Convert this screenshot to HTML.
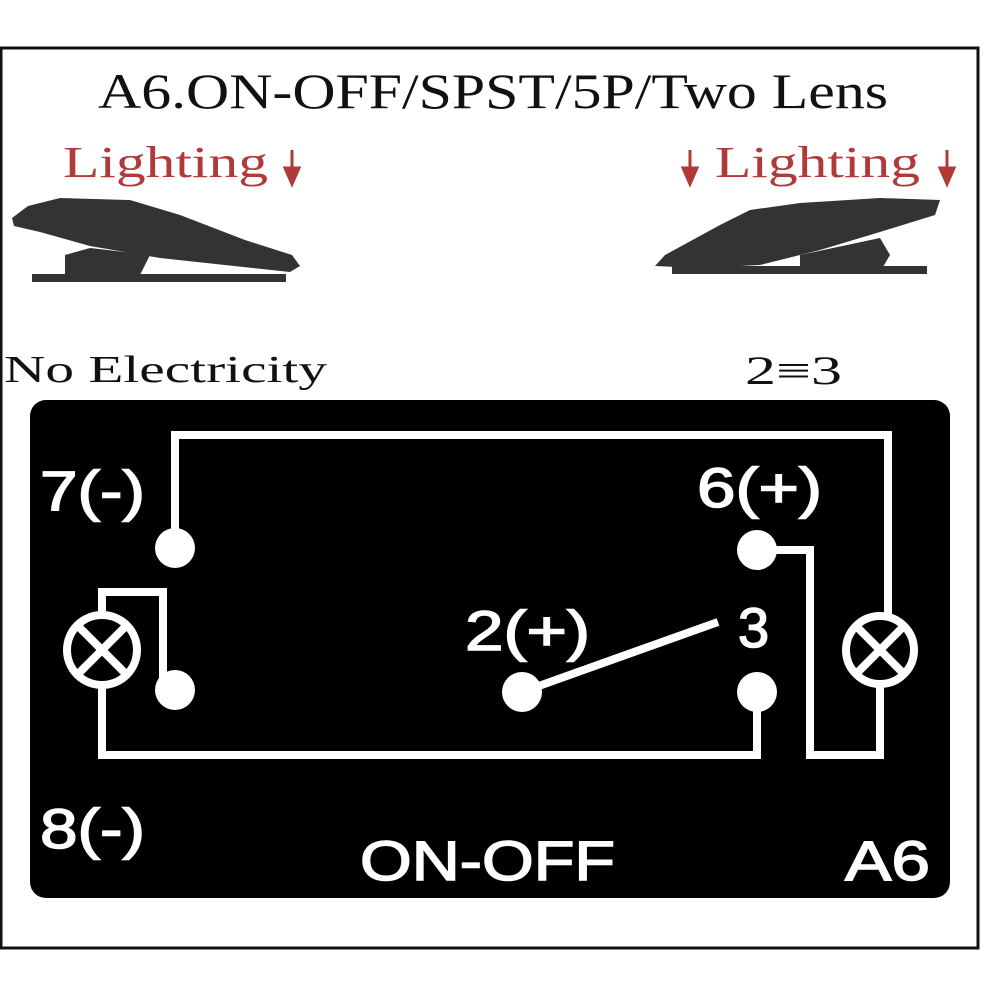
<!DOCTYPE html>
<html><head><style>body{margin:0;background:#fff}svg{display:block}</style></head><body>
<svg width="1000" height="1000" viewBox="0 0 1000 1000" xmlns="http://www.w3.org/2000/svg">
<rect width="1000" height="1000" fill="#fff"/>
<path d="M1,48 H978 V948 H1 Z" fill="none" stroke="#111" stroke-width="3"/>
<g font-family="Liberation Serif, DejaVu Serif, serif">
<text x="98" y="108" font-size="50" fill="#111" textLength="790" lengthAdjust="spacingAndGlyphs">A6.ON-OFF/SPST/5P/Two Lens</text>
<text x="63" y="177" font-size="44" fill="#b03a3a" textLength="205" lengthAdjust="spacingAndGlyphs">Lighting</text>
<text x="715" y="177" font-size="44" fill="#b03a3a" textLength="205" lengthAdjust="spacingAndGlyphs">Lighting</text>
<text x="4" y="382" font-size="38" fill="#111" textLength="323" lengthAdjust="spacingAndGlyphs">No Electricity</text>
<text x="745" y="384" font-size="40" fill="#111" textLength="97" lengthAdjust="spacingAndGlyphs">2≡3</text>
</g>
<g stroke="#b03a3a" stroke-width="3" fill="#b03a3a">
<path d="M292,150 V175"/><path d="M285,168 L292,184 L299,168 Z"/>
<path d="M690,150 V175"/><path d="M683,168 L690,184 L697,168 Z"/>
<path d="M947,150 V175"/><path d="M940,168 L947,184 L954,168 Z"/>
</g>
<!-- left switch -->
<g fill="#333">
<path d="M12,218 L28,206 L60,198 L130,200 L180,215 L245,240 L292,255 L300,266 L290,272 L160,258 L90,246 L40,232 L14,226 Z"/>
<path d="M65,255 L90,248 L150,255 L140,275 L65,275 Z"/>
<rect x="32" y="274" width="254" height="8"/>
</g>
<!-- right switch -->
<g fill="#333">
<path d="M940,200 L935,215 L880,232 L820,250 L760,265 L700,268 L655,266 L665,255 L720,225 L750,210 L800,203 L880,198 Z"/>
<path d="M800,255 L880,238 L890,255 L880,272 L800,272 Z"/>
<rect x="672" y="266" width="255" height="8"/>
</g>
<rect x="30" y="400" width="920" height="498" rx="16" fill="#000"/>
<g fill="none" stroke="#fff" stroke-width="8" stroke-linejoin="miter">
<path d="M175,548 V435 H888 V617"/>
<path d="M880,683 V755 H810 V550 H757"/>
<path d="M102,615 V592 H163 V690"/>
<path d="M102,685 V755 H757 V692"/>
<path d="M522,692 L718,622"/>
<circle cx="102" cy="650" r="35"/>
<path d="M78,626 L126,674 M126,626 L78,674"/>
<circle cx="880" cy="650" r="34"/>
<path d="M856,626 L904,674 M904,626 L856,674"/>
</g>
<g fill="#fff">
<circle cx="175" cy="548" r="20"/>
<circle cx="175" cy="690" r="20"/>
<circle cx="522" cy="692" r="20"/>
<circle cx="757" cy="692" r="20"/>
<circle cx="757" cy="550" r="20"/>
</g>
<g font-family="Liberation Sans, sans-serif" font-size="56" fill="#fff" stroke="#fff" stroke-width="1.5">
<text x="40" y="510" textLength="105" lengthAdjust="spacingAndGlyphs">7(-)</text>
<text x="697" y="507" textLength="125" lengthAdjust="spacingAndGlyphs">6(+)</text>
<text x="465" y="650" textLength="125" lengthAdjust="spacingAndGlyphs">2(+)</text>
<text x="738" y="647">3</text>
<text x="40" y="848" textLength="105" lengthAdjust="spacingAndGlyphs">8(-)</text>
<text x="360" y="880" textLength="255" lengthAdjust="spacingAndGlyphs">ON-OFF</text>
<text x="845" y="880" textLength="85" lengthAdjust="spacingAndGlyphs">A6</text>
</g>
</svg>
</body></html>
